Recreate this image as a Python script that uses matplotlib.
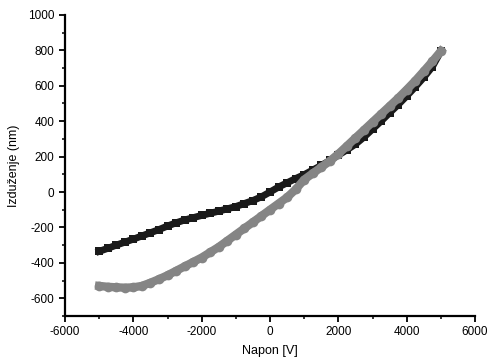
import matplotlib.pyplot as plt
from matplotlib.ticker import MultipleLocator

plt.rcParams['font.family'] = ['Liberation Sans', 'DejaVu Sans']
plt.rcParams['axes.unicode_minus'] = False

# voltage sweep (V)
napon = [-5000, -4750, -4500, -4250, -4000, -3750, -3500, -3250, -3000, -2750,
         -2500, -2250, -2000, -1750, -1500, -1250, -1000, -750, -500, -250,
         0, 250, 500, 750, 1000, 1250, 1500, 1750, 2000, 2250,
         2500, 2750, 3000, 3250, 3500, 3750, 4000, 4250, 4500, 4750, 5000]

# elongation (nm), black squares
izduzenje_1 = [-335, -318, -300, -283, -266, -248, -230, -212, -192, -174,
               -158, -145, -132, -120, -108, -95, -82, -65, -48, -27,
               0, 28, 52, 76, 98, 124, 150, 178, 208, 238,
               270, 310, 355, 400, 447, 493, 542, 593, 647, 707, 795]

# elongation (nm), gray circles
izduzenje_2 = [-530, -535, -538, -540, -538, -530, -512, -492, -470, -445,
               -420, -395, -370, -340, -310, -275, -240, -205, -170, -135,
               -100, -65, -30, 15, 70, 105, 140, 175, 215, 260,
               305, 350, 395, 440, 485, 530, 578, 628, 682, 737, 795]

fig = plt.figure(figsize=(4.87, 3.62), dpi=100)
ax = fig.add_axes([0.1335, 0.127, 0.842, 0.832])

ax.plot(napon, izduzenje_1, color='#1a1a1a', lw=5, marker='s', ms=5.5,
        markeredgewidth=0, zorder=2)
ax.plot(napon, izduzenje_2, color='#858585', lw=6, marker='o', ms=7,
        markeredgewidth=0, zorder=3)

ax.set_xlim(-6000, 6000)
ax.set_ylim(-700, 1000)
ax.xaxis.set_major_locator(MultipleLocator(2000))
ax.xaxis.set_minor_locator(MultipleLocator(1000))
ax.yaxis.set_major_locator(MultipleLocator(200))
ax.yaxis.set_minor_locator(MultipleLocator(100))

for s in ['top', 'right']:
    ax.spines[s].set_visible(False)
for s in ['left', 'bottom']:
    ax.spines[s].set_linewidth(1.6)

ax.tick_params(which='major', direction='out', length=4, width=1.3, labelsize=8.5)
ax.tick_params(which='minor', direction='out', length=2.5, width=1.1)

ax.set_xlabel('Napon [V]', fontsize=9, labelpad=5)
ax.set_ylabel('Izduženje (nm)', fontsize=9, labelpad=6)

fig.savefig('out.png', dpi=100)
